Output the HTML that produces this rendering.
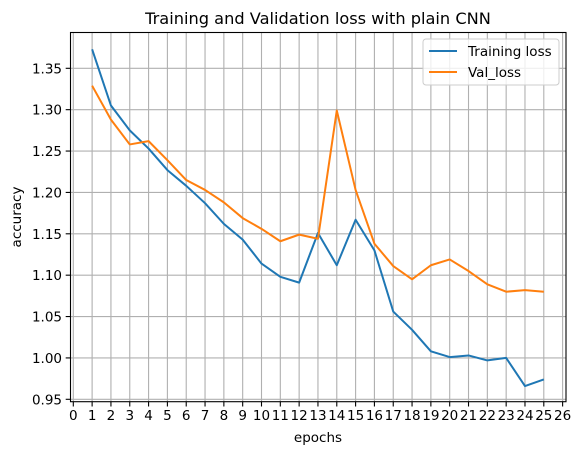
<!DOCTYPE html>
<html><head><meta charset="utf-8"><style>
body{margin:0;background:#fff;font-family:"DejaVu Sans","Liberation Sans",sans-serif;}
svg text{font-family:"DejaVu Sans","Liberation Sans",sans-serif;fill:#000;}
</style></head><body>
<svg id="chart" width="581" height="455" xmlns="http://www.w3.org/2000/svg">
<g id="grid"></g>
<g id="series"></g>
<rect x="70.5" y="32.5" width="495.5" height="369.2" fill="none" stroke="#000" stroke-width="1.1"/>
<g id="axes"></g>
<text x="318" y="24" font-size="16.2" text-anchor="middle">Training and Validation loss with plain CNN</text>
<text x="318" y="442" font-size="13.5" text-anchor="middle">epochs</text>
<text transform="translate(21,217) rotate(-90)" font-size="13.5" text-anchor="middle">accuracy</text>
<g>
<rect x="423" y="39" width="136" height="46" rx="3" fill="#fff" fill-opacity="0.8" stroke="#ccc"/>
<line x1="429" y1="51" x2="457" y2="51" stroke="#1f77b4" stroke-width="2"/>
<text x="468" y="56" font-size="13.5">Training loss</text>
<line x1="429" y1="72" x2="457" y2="72" stroke="#ff7f0e" stroke-width="2"/>
<text x="468" y="77" font-size="13.5">Val_loss</text>
</g>
</svg>
<script>
const epochs=[1,2,3,4,5,6,7,8,9,10,11,12,13,14,15,16,17,18,19,20,21,22,23,24,25];
const trainLoss=[1.373,1.305,1.275,1.253,1.227,1.208,1.187,1.162,1.143,1.114,1.098,1.091,1.151,1.112,1.167,1.130,1.056,1.034,1.008,1.001,1.003,0.997,1.000,0.966,0.974];
const valLoss=[1.329,1.288,1.258,1.262,1.239,1.215,1.203,1.188,1.169,1.156,1.141,1.149,1.144,1.299,1.203,1.138,1.111,1.095,1.112,1.119,1.105,1.089,1.080,1.082,1.080];
const xTicks=[0,1,2,3,4,5,6,7,8,9,10,11,12,13,14,15,16,17,18,19,20,21,22,23,24,25,26];
const yTicks=[0.95,1.00,1.05,1.10,1.15,1.20,1.25,1.30,1.35];
const NS="http://www.w3.org/2000/svg";
function xs(v){return 73.3+v*18.82;}
function ys(v){return 399.3-(v-0.95)*827.5;}
function mk(t,a,p){const e=document.createElementNS(NS,t);for(const k in a)e.setAttribute(k,a[k]);p.appendChild(e);return e;}
const grid=document.getElementById('grid'),axes=document.getElementById('axes'),series=document.getElementById('series');
xTicks.forEach(t=>{
 const g=mk('line',{x1:xs(t),x2:xs(t),y1:32.5,y2:401.7,stroke:'#b0b0b0','stroke-width':1.1},grid);
 
 
 const k=mk('line',{x1:xs(t),x2:xs(t),y1:401.7,y2:406.5,stroke:'#000','stroke-width':1.1},axes);
 
 
 const l=mk('text',{x:xs(t),y:420,'font-size':13.5,'text-anchor':'middle'},axes);
 l.textContent=t;
 
 
});
yTicks.forEach(t=>{
 const g=mk('line',{x1:70.5,x2:566,y1:ys(t),y2:ys(t),stroke:'#b0b0b0','stroke-width':1.1},grid);
 
 
 const k=mk('line',{x1:65.7,x2:70.5,y1:ys(t),y2:ys(t),stroke:'#000','stroke-width':1.1},axes);
 
 
 const l=mk('text',{x:62,y:ys(t)+5,'font-size':13.5,'text-anchor':'end'},axes);
 l.textContent=t.toFixed(2);
 
 
});
function line(vals,color,name){
 const p=mk('polyline',{points:vals.map((v,i)=>xs(epochs[i])+','+ys(v)).join(' '),fill:'none',stroke:color,'stroke-width':2,'stroke-linejoin':'round'},series);
 
 
}
line(trainLoss,'#1f77b4','training-loss-line');
line(valLoss,'#ff7f0e','val-loss-line');
</script>
</body></html>
